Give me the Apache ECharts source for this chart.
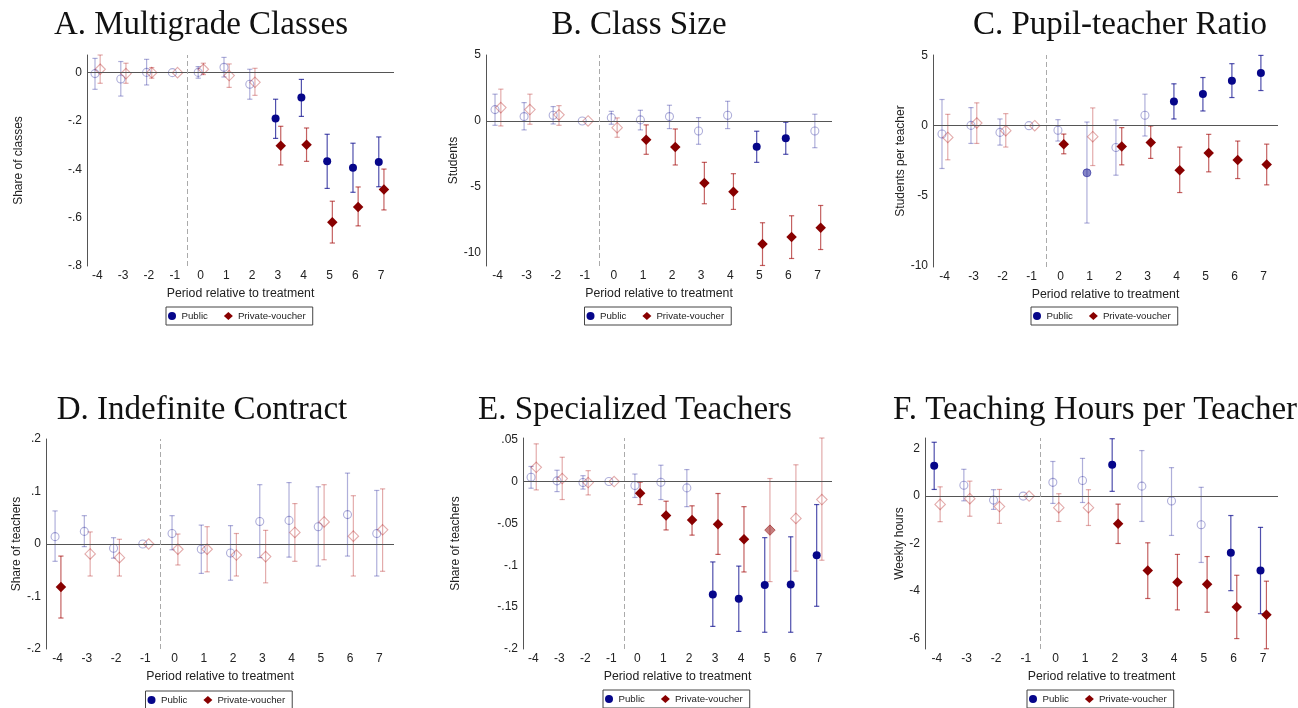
<!DOCTYPE html>
<html>
<head>
<meta charset="utf-8">
<script src="https://cdn.jsdelivr.net/npm/echarts@6/dist/echarts.min.js"></script>
<style>
  html, body { margin: 0; padding: 0; background: #fff; }
  #chart { width: 1298px; height: 708px; }
</style>
</head>
<body>
<div id="chart"></div>
<script>
var periods = [-4, -3, -2, -1, 0, 1, 2, 3, 4, 5, 6, 7];

// sig: 2 = significant (solid), 1 = marginal (light fill), 0 = not significant (hollow)
// A. Multigrade classes
var aPubEst = [-0.004, -0.026, 0.001, 0, 0.001, 0.022, -0.048, -0.19, -0.103, -0.367, -0.394, -0.37];
var aPubLo = [-0.069, -0.097, -0.051, 0, -0.023, -0.018, -0.11, -0.272, -0.181, -0.479, -0.495, -0.472];
var aPubHi = [0.059, 0.046, 0.055, 0, 0.025, 0.063, 0.014, -0.11, -0.028, -0.255, -0.292, -0.266];
var aPubSig = [0, 0, 0, 0, 0, 0, 0, 2, 2, 2, 2, 2];
var aPrvEst = [0.014, -0.004, 0, 0, 0.014, -0.012, -0.04, -0.302, -0.298, -0.619, -0.556, -0.484];
var aPrvLo = [-0.044, -0.044, -0.023, 0, -0.008, -0.061, -0.094, -0.382, -0.367, -0.705, -0.634, -0.568];
var aPrvHi = [0.073, 0.039, 0.021, 0, 0.039, 0.036, 0.018, -0.222, -0.229, -0.532, -0.473, -0.399];
var aPrvSig = [0, 0, 0, 0, 0, 0, 0, 2, 2, 2, 2, 2];
var aTicks = [0, -0.2, -0.4, -0.6, -0.8];

// B. Class size
var bPubEst = [0.86, 0.33, 0.43, 0, 0.25, 0.08, 0.33, -0.76, 0.43, -1.95, -1.32, -0.76];
var bPubLo = [-0.33, -0.68, -0.23, 0, -0.25, -0.68, -0.58, -1.77, -0.58, -3.14, -2.53, -2.03];
var bPubHi = [2.03, 1.39, 1.09, 0, 0.73, 0.81, 1.19, 0.25, 1.49, -0.78, -0.1, 0.51];
var bPubSig = [0, 0, 0, 0, 0, 0, 0, 0, 0, 2, 2, 0];
var bPrvEst = [1.01, 0.86, 0.46, 0, -0.51, -1.42, -1.97, -4.71, -5.37, -9.34, -8.81, -8.1];
var bPrvLo = [-0.38, -0.25, -0.33, 0, -1.24, -2.53, -3.34, -6.28, -6.71, -10.96, -10.43, -9.75];
var bPrvHi = [2.41, 2.03, 1.16, 0, 0.23, -0.3, -0.61, -3.14, -4.0, -7.72, -7.19, -6.41];
var bPrvSig = [0, 0, 0, 0, 0, 2, 2, 2, 2, 2, 2, 2];
var bTicks = [5, 0, -5, -10];

// C. Pupil-teacher ratio
var cPubEst = [-0.6, 0.02, -0.48, 0, -0.33, -3.37, -1.56, 0.74, 1.72, 2.27, 3.21, 3.76];
var cPubLo = [-3.06, -1.27, -1.39, 0, -1.1, -6.96, -3.54, -0.74, 0.48, 1.05, 2.01, 2.51];
var cPubHi = [1.87, 1.29, 0.48, 0, 0.43, 0.26, 0.41, 2.25, 2.99, 3.44, 4.43, 5.02];
var cPubSig = [0, 0, 0, 0, 0, 1, 0, 0, 2, 2, 2, 2];
var cPrvEst = [-0.84, 0.19, -0.36, 0, -1.32, -0.79, -1.48, -1.2, -3.18, -1.96, -2.46, -2.78];
var cPrvLo = [-2.44, -1.27, -1.53, 0, -2.01, -2.85, -2.8, -2.34, -4.78, -3.3, -3.78, -4.23];
var cPrvHi = [0.81, 1.63, 0.86, 0, -0.6, 1.27, -0.14, -0.02, -1.53, -0.62, -1.1, -1.32];
var cPrvSig = [0, 0, 0, 0, 2, 0, 2, 2, 2, 2, 2, 2];
var cTicks = [5, 0, -5, -10];

// D. Indefinite contract
var dPubEst = [0.014, 0.024, -0.008, 0, 0.02, -0.01, -0.017, 0.043, 0.045, 0.033, 0.056, 0.02];
var dPubLo = [-0.033, -0.005, -0.027, 0, -0.011, -0.056, -0.069, -0.026, -0.025, -0.042, -0.023, -0.061];
var dPubHi = [0.063, 0.054, 0.012, 0, 0.054, 0.036, 0.035, 0.113, 0.117, 0.109, 0.135, 0.102];
var dPubSig = [0, 0, 0, 0, 0, 0, 0, 0, 0, 0, 0, 0];
var dPrvEst = [-0.082, -0.019, -0.026, 0, -0.01, -0.01, -0.021, -0.024, 0.022, 0.042, 0.015, 0.027];
var dPrvLo = [-0.141, -0.061, -0.061, 0, -0.04, -0.053, -0.061, -0.074, -0.033, -0.03, -0.061, -0.052];
var dPrvHi = [-0.023, 0.023, 0.009, 0, 0.019, 0.033, 0.02, 0.026, 0.077, 0.113, 0.092, 0.105];
var dPrvSig = [2, 0, 0, 0, 0, 0, 0, 0, 0, 0, 0, 0];
var dTicks = [0.2, 0.1, 0, -0.1, -0.2];

// E. Specialized teachers
var ePubEst = [0.0052, 0.0008, -0.0012, 0, -0.0048, -0.0008, -0.0076, -0.135, -0.14, -0.1235, -0.123, -0.088];
var ePubLo = [-0.008, -0.012, -0.009, 0, -0.019, -0.0215, -0.03, -0.173, -0.179, -0.18, -0.18, -0.149];
var ePubHi = [0.018, 0.0135, 0.007, 0, 0.009, 0.0195, 0.0143, -0.096, -0.101, -0.067, -0.066, -0.0275];
var ePubSig = [0, 0, 0, 0, 0, 0, 0, 2, 2, 2, 2, 2];
var ePrvEst = [0.017, 0.0036, -0.0012, 0, -0.014, -0.0406, -0.046, -0.051, -0.069, -0.058, -0.044, -0.0215];
var ePrvLo = [-0.01, -0.0215, -0.016, 0, -0.0275, -0.0578, -0.064, -0.087, -0.108, -0.1195, -0.107, -0.094];
var ePrvHi = [0.045, 0.029, 0.013, 0, -0.0008, -0.0235, -0.029, -0.0143, -0.03, 0.0036, 0.02, 0.052];
var ePrvSig = [0, 0, 0, 0, 2, 2, 2, 2, 2, 1, 0, 0];
var eTicks = [0.05, 0, -0.05, -0.1, -0.15, -0.2];

// F. Teaching hours per teacher
var fPubEst = [1.28, 0.46, -0.17, 0, 0.58, 0.66, 1.32, 0.42, -0.21, -1.21, -2.39, -3.14];
var fPubLo = [0.28, -0.2, -0.56, 0, -0.31, -0.27, 0.2, -1.07, -1.66, -2.8, -3.99, -4.96];
var fPubHi = [2.27, 1.13, 0.27, 0, 1.46, 1.59, 2.42, 1.92, 1.2, 0.37, -0.82, -1.32];
var fPubSig = [2, 0, 0, 0, 0, 0, 2, 0, 0, 0, 2, 2];
var fPrvEst = [-0.35, -0.11, -0.44, 0, -0.49, -0.49, -1.17, -3.14, -3.63, -3.72, -4.68, -5.01];
var fPrvLo = [-1.08, -0.85, -1.15, 0, -1.07, -1.24, -2.0, -4.32, -4.8, -4.9, -6.01, -6.44];
var fPrvHi = [0.39, 0.63, 0.28, 0, 0.1, 0.27, -0.34, -1.97, -2.46, -2.55, -3.34, -3.59];
var fPrvSig = [0, 0, 0, 0, 0, 0, 2, 2, 2, 2, 2, 2];
var fTicks = [2, 0, -2, -4, -6];

var PUB = '#06068a', PUB_CI = 'rgba(12,12,142,0.72)', PUB_MID = 'rgba(12,12,142,0.5)', PUB_LIGHT = 'rgba(12,12,142,0.33)';
var PRV = '#880000', PRV_CI = 'rgba(160,0,0,0.62)', PRV_MID = 'rgba(139,0,0,0.5)', PRV_LIGHT = 'rgba(170,0,0,0.33)';
var SANS = '"Liberation Sans", Arial, sans-serif';
var SERIF = '"Liberation Serif", "Times New Roman", serif';

var panels = [
  {title: 'A. Multigrade Classes', tx: 201, ty: 25, yName: 'Share of classes', yGap: 62,
   grid: {left: 87, top: 55, width: 307, height: 211}, yMin: -0.8, yMax: 0.073, ticks: aTicks,
   pub: {est: aPubEst, lo: aPubLo, hi: aPubHi, sig: aPubSig}, prv: {est: aPrvEst, lo: aPrvLo, hi: aPrvHi, sig: aPrvSig}},
  {title: 'B. Class Size', tx: 639, ty: 25, yName: 'Students', yGap: 24,
   grid: {left: 486, top: 55, width: 346, height: 211}, yMin: -11, yMax: 5, ticks: bTicks,
   pub: {est: bPubEst, lo: bPubLo, hi: bPubHi, sig: bPubSig}, prv: {est: bPrvEst, lo: bPrvLo, hi: bPrvHi, sig: bPrvSig}},
  {title: 'C. Pupil-teacher Ratio', tx: 1120, ty: 25, yName: 'Students per teacher', yGap: 25,
   grid: {left: 933, top: 55, width: 345, height: 212}, yMin: -10.1, yMax: 5.05, ticks: cTicks,
   pub: {est: cPubEst, lo: cPubLo, hi: cPubHi, sig: cPubSig}, prv: {est: cPrvEst, lo: cPrvLo, hi: cPrvHi, sig: cPrvSig}},
  {title: 'D. Indefinite Contract', tx: 202, ty: 410, yName: 'Share of teachers', yGap: 21,
   grid: {left: 46, top: 439, width: 348, height: 210}, yMin: -0.2, yMax: 0.2, ticks: dTicks,
   pub: {est: dPubEst, lo: dPubLo, hi: dPubHi, sig: dPubSig}, prv: {est: dPrvEst, lo: dPrvLo, hi: dPrvHi, sig: dPrvSig}},
  {title: 'E. Specialized Teachers', tx: 635, ty: 410, yName: 'Share of teachers', yGap: 61,
   grid: {left: 523, top: 438, width: 309, height: 211}, yMin: -0.2, yMax: 0.052, ticks: eTicks,
   pub: {est: ePubEst, lo: ePubLo, hi: ePubHi, sig: ePubSig}, prv: {est: ePrvEst, lo: ePrvLo, hi: ePrvHi, sig: ePrvSig}},
  {title: 'F. Teaching Hours per Teacher', tx: 1095, ty: 410, yName: 'Weekly hours', yGap: 19,
   grid: {left: 925, top: 438, width: 353, height: 211}, yMin: -6.45, yMax: 2.45, ticks: fTicks,
   pub: {est: fPubEst, lo: fPubLo, hi: fPubHi, sig: fPubSig}, prv: {est: fPrvEst, lo: fPrvLo, hi: fPrvHi, sig: fPrvSig}}
];

function fmtTick(v) {
  var s = String(parseFloat(Number(v).toFixed(4)));
  return s.replace(/^(-?)0\./, '$1.');
}

// vertical CI bars with caps
function ciSeries(idx, g, offset, strong, light) {
  return {
    type: 'custom', xAxisIndex: idx, yAxisIndex: idx, silent: true, z: 2,
    renderItem: function (params, api) {
      var lo = api.value(1), hi = api.value(2);
      if (lo === hi) return null;
      var top = api.coord([api.value(0), hi]);
      var bot = api.coord([api.value(0), lo]);
      var st = {stroke: api.value(3) === 2 ? strong : light, lineWidth: 1.2};
      return {type: 'group', children: [
        {type: 'line', shape: {x1: top[0], y1: top[1], x2: bot[0], y2: bot[1]}, style: st},
        {type: 'line', shape: {x1: top[0] - 2.6, y1: top[1], x2: top[0] + 2.6, y2: top[1]}, style: st},
        {type: 'line', shape: {x1: bot[0] - 2.6, y1: bot[1], x2: bot[0] + 2.6, y2: bot[1]}, style: st}
      ]};
    },
    data: periods.map(function (p, i) { return [p + offset, g.lo[i], g.hi[i], g.sig[i]]; })
  };
}

function pointSeries(idx, g, name, offset, symbol, size, dark, mid, light) {
  return {
    type: 'scatter', name: name, xAxisIndex: idx, yAxisIndex: idx, z: 3,
    symbol: symbol, symbolSize: size, itemStyle: {color: dark, opacity: 1},
    emphasis: {disabled: true},
    data: periods.map(function (p, i) {
      var s = g.sig[i], style;
      if (s === 2) style = {color: dark, borderWidth: 0, opacity: 1};
      else if (s === 1) style = {color: mid, borderColor: mid, borderWidth: 1, opacity: 1};
      else style = {color: 'rgba(255,255,255,0)', borderColor: light, borderWidth: 1.1, opacity: 1};
      return {value: [p + offset, g.est[i]], itemStyle: style};
    })
  };
}

var grids = [], xAxes = [], yAxes = [], series = [], legends = [], graphics = [];

panels.forEach(function (pn, idx) {
  grids.push(pn.grid);
  xAxes.push({
    type: 'value', gridIndex: idx, min: -4.4, max: 7.5,
    axisLine: {show: false, onZero: false}, axisTick: {show: false}, splitLine: {show: false},
    axisLabel: {customValues: periods, color: '#222', fontSize: 12, fontFamily: SANS, margin: 4},
    name: 'Period relative to treatment', nameLocation: 'middle', nameGap: 22,
    nameTextStyle: {color: '#222', fontSize: 12.3, fontFamily: SANS}
  });
  yAxes.push({
    type: 'value', gridIndex: idx, min: pn.yMin, max: pn.yMax,
    axisLine: {show: true, onZero: false, lineStyle: {color: '#555', width: 1}},
    axisTick: {show: false}, splitLine: {show: false},
    axisLabel: {customValues: pn.ticks, formatter: fmtTick, color: '#222', fontSize: 12, fontFamily: SANS, margin: 5},
    name: pn.yName, nameLocation: 'middle', nameGap: pn.yGap,
    nameTextStyle: {color: '#222', fontSize: 12, fontFamily: SANS}
  });

  // reference lines
  series.push({
    type: 'scatter', xAxisIndex: idx, yAxisIndex: idx, data: [], z: 1, silent: true,
    markLine: {
      silent: true, symbol: 'none', label: {show: false}, animation: false,
      data: [
        {yAxis: 0, lineStyle: {color: '#555', type: 'solid', width: 1}},
        {xAxis: -0.5, lineStyle: {color: '#aaa', type: [5, 3], width: 1}}
      ]
    }
  });
  series.push(ciSeries(idx, pn.pub, -0.09, PUB_CI, PUB_LIGHT));
  series.push(ciSeries(idx, pn.prv, 0.11, PRV_CI, PRV_LIGHT));
  series.push(pointSeries(idx, pn.pub, 'Public', -0.09, 'circle', 8, PUB, PUB_MID, PUB_LIGHT));
  series.push(pointSeries(idx, pn.prv, 'Private-voucher', 0.11, 'diamond', 10.5, PRV, PRV_MID, PRV_LIGHT));

  var cx = pn.grid.left + pn.grid.width / 2;
  legends.push({
    left: cx - 74.5, top: pn.grid.top + 252, orient: 'horizontal',
    borderColor: '#444', borderWidth: 1, padding: [4, 7, 4, 2],
    itemWidth: 9, itemHeight: 8, itemGap: 16,
    textStyle: {color: '#222', fontSize: 9.7, fontFamily: SANS},
    selectedMode: false,
    data: [
      {name: 'Public', icon: 'circle', itemStyle: {color: PUB, opacity: 1}},
      {name: 'Private-voucher', icon: 'diamond', itemStyle: {color: PRV, opacity: 1}}
    ]
  });

  graphics.push({
    type: 'text', x: pn.tx, y: pn.ty,
    style: {text: pn.title, fill: '#111', font: '33px ' + SERIF, textAlign: 'center', textVerticalAlign: 'middle'}
  });
});

var chart = echarts.init(document.getElementById('chart'));
chart.setOption({
  animation: false,
  backgroundColor: '#fff',
  grid: grids,
  xAxis: xAxes,
  yAxis: yAxes,
  legend: legends,
  graphic: graphics,
  series: series
});
</script>
</body>
</html>
